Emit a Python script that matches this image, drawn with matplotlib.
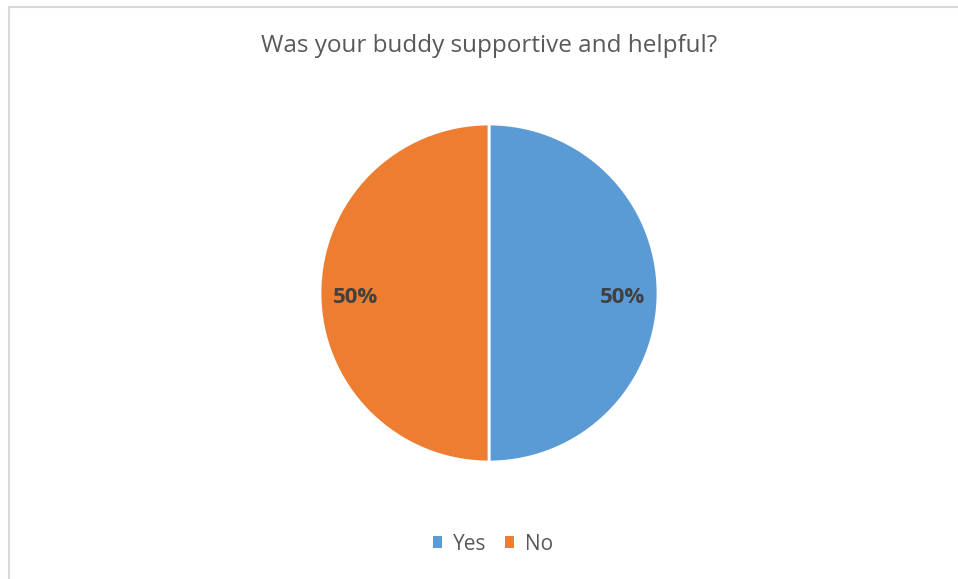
import matplotlib.pyplot as plt
from matplotlib.lines import Line2D
from matplotlib.patches import Patch

# answers and their share of responses
labels = ["Yes", "No"]
shares = [50, 50]
colors = ["#5B9BD5", "#ED7D31"]

plt.rcParams['font.family'] = ['Open Sans', 'DejaVu Sans']

fig = plt.figure(figsize=(9.58, 5.79), dpi=100)
fig.patch.set_facecolor("white")

# chart frame (top and left edges only are visible)
fig.add_artist(Line2D([9 / 958, 1], [1 - 7 / 579, 1 - 7 / 579], color="#d9d9d9", lw=1.5))
fig.add_artist(Line2D([9 / 958, 9 / 958], [0, 1 - 7 / 579], color="#d9d9d9", lw=1.5))

ax = fig.add_axes([320 / 958, 1 - 462 / 579, 338 / 958, 338 / 579])
wedges, texts, autotexts = ax.pie(
    shares, colors=colors, startangle=90, counterclock=False,
    autopct="%d%%", pctdistance=0.79, radius=1,
    wedgeprops=dict(edgecolor="white", linewidth=2),
    textprops=dict(color="#404040", fontsize=16, fontweight="bold"))
for t in autotexts:
    x, y = t.get_position()
    t.set_position((x, y - 0.025))
ax.set_xlim(-1, 1)
ax.set_ylim(-1, 1)
ax.set_aspect("equal")
ax.axis("off")

fig.text(489 / 958, 1 - 52 / 579, "Was your buddy supportive and helpful?",
         ha="center", va="baseline", fontsize=17.5, color="#595959")

handles = [Patch(facecolor=c, edgecolor="none") for c in colors]
fig.legend(handles, labels, loc="center", bbox_to_anchor=(493 / 958, 1 - 544 / 579),
           ncol=2, frameon=False, fontsize=15, labelcolor="#595959",
           handlelength=0.45, handleheight=0.45, handletextpad=0.5, columnspacing=0.9)

fig.savefig("out.png", dpi=100)
